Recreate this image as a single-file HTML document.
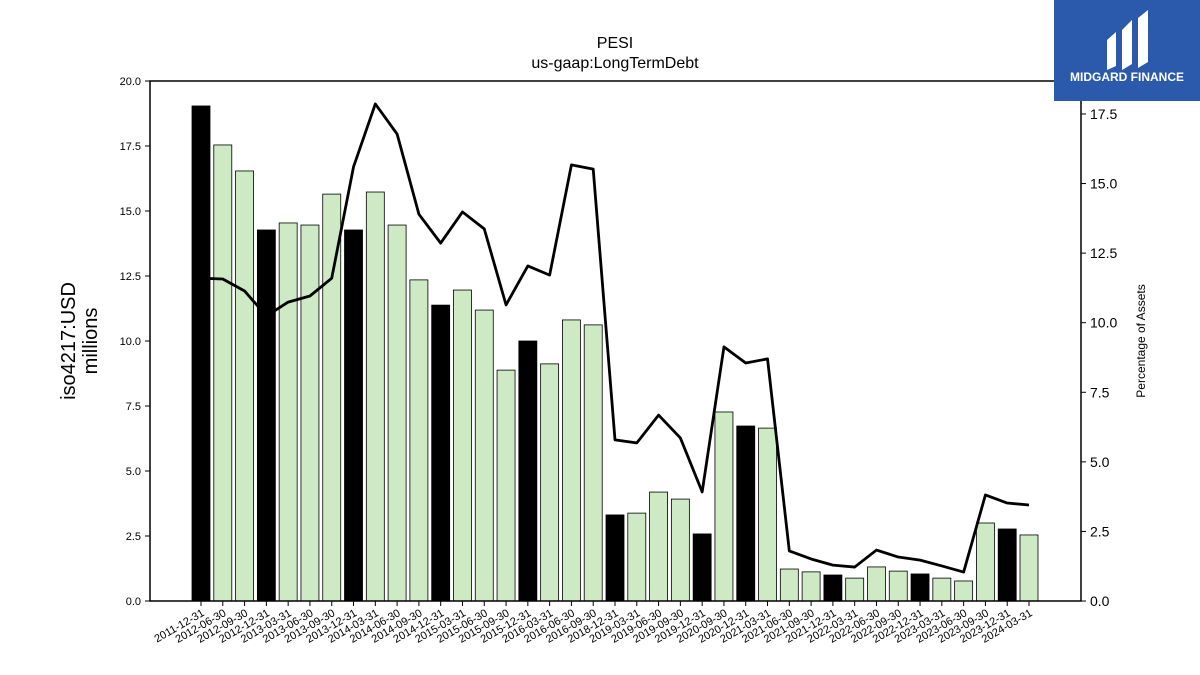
<!DOCTYPE html>
<html><head><meta charset="utf-8"><style>
body{margin:0;background:#fff;width:1200px;height:675px;overflow:hidden;font-family:"Liberation Sans","DejaVu Sans",sans-serif}
svg{position:absolute;left:0;top:0}
</style></head><body>
<svg id="c" width="1200" height="675"></svg>
<script>
const categories=["2011-12-31","2012-06-30","2012-09-30","2012-12-31","2013-03-31","2013-06-30","2013-09-30","2013-12-31","2014-03-31","2014-06-30","2014-09-30","2014-12-31","2015-03-31","2015-06-30","2015-09-30","2015-12-31","2016-03-31","2016-06-30","2016-09-30","2018-12-31","2019-03-31","2019-06-30","2019-09-30","2019-12-31","2020-09-30","2020-12-31","2021-03-31","2021-06-30","2021-09-30","2021-12-31","2022-03-31","2022-06-30","2022-09-30","2022-12-31","2023-03-31","2023-06-30","2023-09-30","2023-12-31","2024-03-31"];
const debtValues=[19.04,17.54,16.54,14.27,14.54,14.46,15.65,14.27,15.73,14.46,12.35,11.38,11.96,11.19,8.88,10.0,9.12,10.81,10.62,3.31,3.38,4.19,3.92,2.58,7.27,6.73,6.65,1.23,1.12,1.0,0.88,1.31,1.15,1.04,0.88,0.77,3.0,2.77,2.54];
const pctValues=[11.6,11.57,11.14,10.24,10.74,10.96,11.6,15.6,17.86,16.78,13.9,12.86,13.98,13.37,10.64,12.04,11.71,15.67,15.52,5.79,5.68,6.68,5.86,3.92,9.13,8.55,8.7,1.8,1.51,1.29,1.22,1.83,1.58,1.47,1.26,1.04,3.81,3.52,3.45];
const leftTicks=["0.0","2.5","5.0","7.5","10.0","12.5","15.0","17.5","20.0"];
const rightTicks=["0.0","2.5","5.0","7.5","10.0","12.5","15.0","17.5"];

const svg=document.getElementById('c');const NS='http://www.w3.org/2000/svg';
function mk(t,a,p){const e=document.createElementNS(NS,t);for(const k in a)e.setAttribute(k,a[k]);(p||svg).appendChild(e);return e;}
const L=150,R=1081,T=81,B=601;
const yL=v=>B-v*(B-T)/20;
const yR=v=>B-v*27.83;
const x=i=>201+i*(1029-201)/(categories.length-1);

// title
let t=mk('text',{x:615,y:48,'text-anchor':'middle','font-size':16});t.textContent='PESI';

t=mk('text',{x:615,y:68,'text-anchor':'middle','font-size':16});t.textContent='us-gaap:LongTermDebt';


// bars
debtValues.forEach((v,i)=>{
 const blk=categories[i].endsWith('12-31');
 const r=mk('rect',{x:x(i)-9,y:yL(v),width:18,height:B-yL(v),fill:blk?'#000':'#cdeac5',stroke:'#000','stroke-width':0.8});
 
 
});
// line
const pl=mk('polyline',{points:pctValues.map((v,i)=>x(i)+','+yR(v)).join(' '),fill:'none',stroke:'#000','stroke-width':2.8,'stroke-linejoin':'round'});



// frame
const f=mk('rect',{x:L,y:T,width:R-L,height:B-T,fill:'none',stroke:'#000','stroke-width':1.5});


leftTicks.forEach(s=>{const y=yL(parseFloat(s));
 mk('line',{x1:L-5,x2:L,y1:y,y2:y,stroke:'#000'});
 const e=mk('text',{x:L-9,y:y+4,'text-anchor':'end','font-size':11});e.textContent=s;
 });
rightTicks.forEach(s=>{const y=yR(parseFloat(s));
 mk('line',{x1:R,x2:R+5,y1:y,y2:y,stroke:'#000'});
 const e=mk('text',{x:R+9,y:y+5,'font-size':14});e.textContent=s;
 });
categories.forEach((c,i)=>{const xx=x(i);
 mk('line',{x1:xx,x2:xx,y1:B,y2:B+5,stroke:'#000'});
 const e=mk('text',{x:xx+4,y:B+14,'text-anchor':'end','font-size':11,transform:`rotate(-30 ${xx+4} ${B+14})`});e.textContent=c;
 });

t=mk('text',{x:0,y:0,'text-anchor':'middle','font-size':20,transform:'translate(75 341) rotate(-90)'});t.textContent='iso4217:USD';

t=mk('text',{x:0,y:0,'text-anchor':'middle','font-size':20,transform:'translate(97 341) rotate(-90)'});t.textContent='millions';

t=mk('text',{x:0,y:0,'text-anchor':'middle','font-size':12,transform:'translate(1145 341) rotate(-90)'});t.textContent='Percentage of Assets';


// logo
const g=mk('g',{});
mk('rect',{x:1054,y:0,width:146,height:101,fill:'#2b5aad'},g);
mk('path',{d:'M1107 40 L1116 32 L1116 66 L1107 70 Z M1122 30 L1132 20 L1132 64 L1122 70 Z M1138 18 L1148 10 L1148 62 L1138 68 Z',fill:'#fff'},g);
t=mk('text',{x:1127,y:81,'text-anchor':'middle','font-size':12,'font-weight':'bold',fill:'#fff'},g);t.textContent='MIDGARD FINANCE';
</script>
</body></html>
